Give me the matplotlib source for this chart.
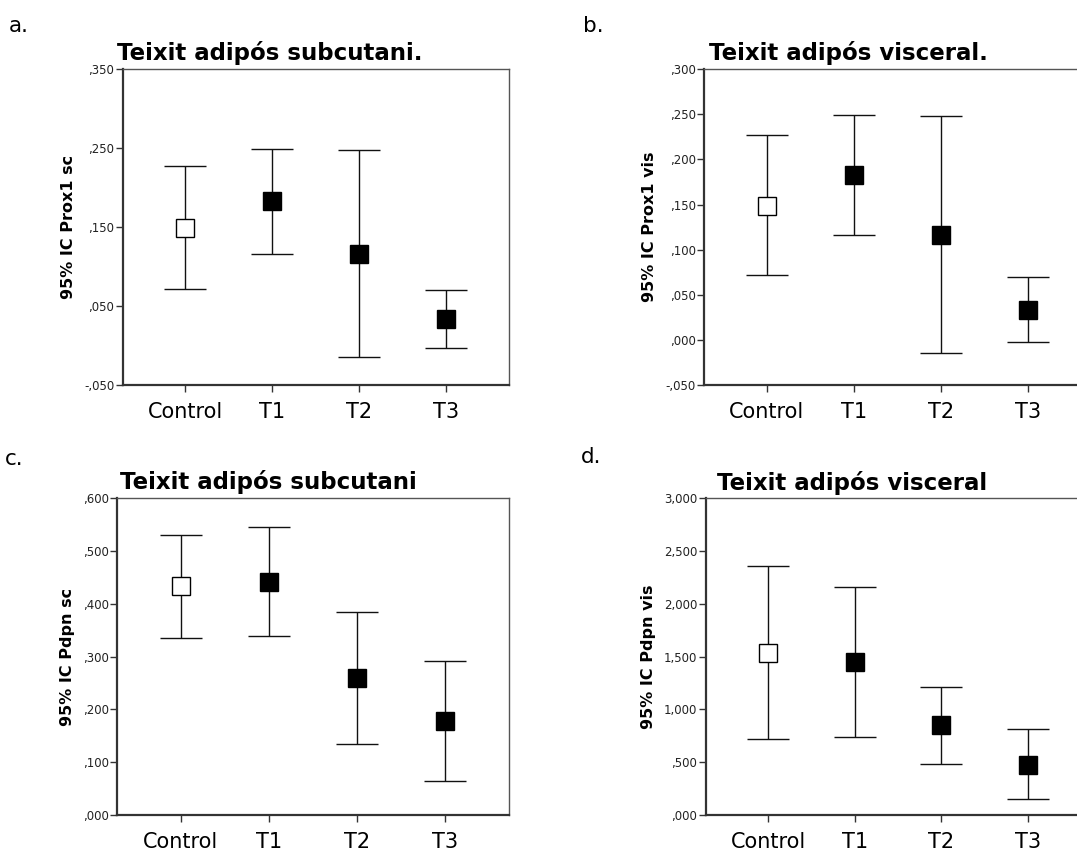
import matplotlib
matplotlib.use("Agg")
import matplotlib.pyplot as plt
from matplotlib.ticker import FuncFormatter

# ---------------- data ----------------
categories = ["Control", "T1", "T2", "T3"]

# Prox1 subcutaneous (panel a)
prox_sc_mean = [0.149, 0.183, 0.116, 0.033]
prox_sc_low = [0.072, 0.116, -0.0145, -0.0027]
prox_sc_high = [0.227, 0.2495, 0.248, 0.070]

# Prox1 visceral (panel b)
prox_vis_mean = [0.149, 0.183, 0.116, 0.033]
prox_vis_low = [0.072, 0.116, -0.0145, -0.0027]
prox_vis_high = [0.227, 0.2495, 0.248, 0.070]

# Pdpn subcutaneous (panel c)
pdpn_sc_mean = [0.433, 0.442, 0.260, 0.178]
pdpn_sc_low = [0.336, 0.339, 0.135, 0.064]
pdpn_sc_high = [0.530, 0.546, 0.384, 0.292]

# Pdpn visceral (panel d)
pdpn_vis_mean = [1.539, 1.445, 0.848, 0.478]
pdpn_vis_low = [0.723, 0.736, 0.483, 0.152]
pdpn_vis_high = [2.359, 2.163, 1.216, 0.812]

ticks_a = [-0.05, 0.05, 0.15, 0.25, 0.35]
ticks_b = [-0.05, 0.0, 0.05, 0.10, 0.15, 0.20, 0.25, 0.30]
ticks_c = [0.0, 0.1, 0.2, 0.3, 0.4, 0.5, 0.6]
ticks_d = [0.0, 0.5, 1.0, 1.5, 2.0, 2.5, 3.0]

titles = ["Teixit adipós subcutani.", "Teixit adipós visceral.",
          "Teixit adipós subcutani", "Teixit adipós visceral"]
ylabels = ["95% IC Prox1 sc", "95% IC Prox1 vis",
           "95% IC Pdpn sc", "95% IC Pdpn vis"]
letters = ["a.", "b.", "c.", "d."]

# ---------------- figure ----------------
W, H = 1077, 850
fig = plt.figure(figsize=(W / 100, H / 100), dpi=100)
plt.rcParams['font.family'] = ['DejaVu Sans']


def box(l, r, t, b):
    return [l / W, 1 - b / H, (r - l) / W, (b - t) / H]


def fmt(v, pos=None):
    s = f"{v:.3f}".replace(".", ",")
    if s.startswith("0,"):
        s = s[1:]
    elif s.startswith("-0,"):
        s = "-" + s[2:]
    return s


panels = [
    dict(pos=box(122.7, 509, 69.3, 385), mean=prox_sc_mean, lo=prox_sc_low,
         hi=prox_sc_high, ticks=ticks_a, ylim=(-0.05, 0.35)),
    dict(pos=box(704, 1090.7, 69.3, 385), mean=prox_vis_mean, lo=prox_vis_low,
         hi=prox_vis_high, ticks=ticks_b, ylim=(-0.05, 0.30)),
    dict(pos=box(117.3, 509, 498.3, 815), mean=pdpn_sc_mean, lo=pdpn_sc_low,
         hi=pdpn_sc_high, ticks=ticks_c, ylim=(0.0, 0.6)),
    dict(pos=box(705.7, 1090.4, 498.3, 815), mean=pdpn_vis_mean, lo=pdpn_vis_low,
         hi=pdpn_vis_high, ticks=ticks_d, ylim=(0.0, 3.0)),
]

title_xy = [(270, 60), (848, 60), (268, 489), (852, 490)]
letter_xy = [(9, 32), (583, 32), (5, 465), (581, 463)]

x = list(range(len(categories)))
for i, p in enumerate(panels):
    ax = fig.add_axes(p["pos"])
    yerr = [[m - l for m, l in zip(p["mean"], p["lo"])],
            [h - m for m, h in zip(p["mean"], p["hi"])]]
    ax.errorbar(x, p["mean"], yerr=yerr, fmt="none", ecolor="#111111",
                elinewidth=1.0, capsize=15, capthick=1.0, zorder=2)
    for j, (xi, m) in enumerate(zip(x, p["mean"])):
        ax.plot(xi, m, marker="s", markersize=13,
                markerfacecolor="white" if j == 0 else "black",
                markeredgecolor="black", markeredgewidth=1.0,
                linestyle="none", zorder=3)
    ax.set_xlim(-0.72, 3.72)
    ax.set_ylim(*p["ylim"])
    ax.set_yticks(p["ticks"])
    ax.yaxis.set_major_formatter(FuncFormatter(fmt))
    ax.set_xticks(x)
    ax.set_xticklabels(categories, fontsize=15, color="black")
    ax.tick_params(axis="x", direction="out", length=5, width=1,
                   color="#333333", pad=7)
    ax.tick_params(axis="y", direction="out", length=5, width=1,
                   color="#333333", labelsize=8.5, labelcolor="#222222", pad=1)
    for side in ["left", "bottom"]:
        ax.spines[side].set_linewidth(1.6)
        ax.spines[side].set_color("#333333")
    for side in ["top", "right"]:
        ax.spines[side].set_linewidth(1.0)
        ax.spines[side].set_color("#555555")
    ax.set_ylabel(ylabels[i], fontsize=11.5, fontweight="bold", labelpad=6)

    tx, ty = title_xy[i]
    fig.text(tx / W, 1 - ty / H, titles[i], fontsize=16.5, fontweight="bold",
             ha="center", va="baseline")
    lx, ly = letter_xy[i]
    fig.text(lx / W, 1 - ly / H, letters[i], fontsize=15.5,
             ha="left", va="baseline")

fig.savefig("out.png", dpi=100)
